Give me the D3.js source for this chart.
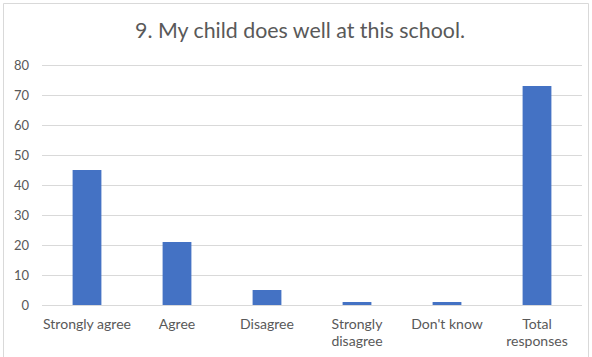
<!DOCTYPE html>
<html>
<head>
<meta charset="utf-8">
<script src="https://cdn.jsdelivr.net/npm/d3@7"></script>
<style>
  html, body { margin: 0; padding: 0; background: #fff; }
  svg { display: block; }
  text { font-family: Lato, "Open Sans", sans-serif; fill: #595959; }
</style>
</head>
<body>
<svg id="chart" width="592" height="357"></svg>
<script>
const title = "9. My child does well at this school.";
const categories = ["Strongly agree", "Agree", "Disagree", "Strongly disagree", "Don't know", "Total responses"];
const categoryLines = [["Strongly agree"], ["Agree"], ["Disagree"], ["Strongly", "disagree"], ["Don't know"], ["Total", "responses"]];
const values = [45, 21, 5, 1, 1, 73];
const yTicks = [0, 10, 20, 30, 40, 50, 60, 70, 80];

const svg = d3.select("#chart");

// outer frame
svg.append("path")
  .attr("d", "M3.5,360 L3.5,3.5 L588.5,3.5 L588.5,360")
  .attr("fill", "none").attr("stroke", "#d9d9d9").attr("stroke-width", 1);

const x = d3.scaleBand().domain(categories).range([42, 582]).paddingInner(0.68).paddingOuter(0.34);
const y = d3.scaleLinear().domain([0, 80]).range([305, 65]);

// gridlines
svg.append("g").selectAll("line").data(yTicks).join("line")
  .attr("x1", 42).attr("x2", 582)
  .attr("y1", d => Math.round(y(d)) + 0.5).attr("y2", d => Math.round(y(d)) + 0.5)
  .attr("stroke", "#d9d9d9").attr("stroke-width", 1);

// y axis labels
const yAxis = d3.axisLeft(y).tickValues(yTicks).tickSize(0).tickPadding(0);
const yg = svg.append("g").attr("transform", "translate(29,0)").call(yAxis);
yg.select(".domain").remove();
yg.selectAll("text").attr("font-size", 13).style("fill", "#595959").attr("font-family", "Lato, sans-serif");

// bars
svg.append("g").selectAll("rect").data(values).join("rect")
  .attr("x", (d, i) => x(categories[i]))
  .attr("width", x.bandwidth())
  .attr("y", d => y(d))
  .attr("height", d => y(0) - y(d))
  .attr("fill", "#4472c4");

// x labels
const xl = svg.append("g");
let xfs = 12.5;
// measure to fit the reference label width
const probe = svg.append("text").attr("font-size", xfs).text(categoryLines[0][0]);
xfs = xfs * 88 / probe.node().getComputedTextLength();
probe.remove();
categoryLines.forEach((lines, i) => {
  const t = xl.append("text")
    .attr("text-anchor", "middle")
    .attr("font-size", xfs)
    .attr("x", x(categories[i]) + x.bandwidth() / 2)
    .attr("y", 329);
  lines.forEach((ln, j) => {
    t.append("tspan").attr("x", x(categories[i]) + x.bandwidth() / 2).attr("dy", j === 0 ? 0 : 17).text(ln);
  });
});

// title
const tt = svg.append("text")
  .attr("x", 300).attr("y", 38)
  .attr("text-anchor", "middle")
  .attr("font-size", 20)
  .text(title);
const w = tt.node().getComputedTextLength();
tt.attr("font-size", 20 * 330 / w);
</script>
</body>
</html>
